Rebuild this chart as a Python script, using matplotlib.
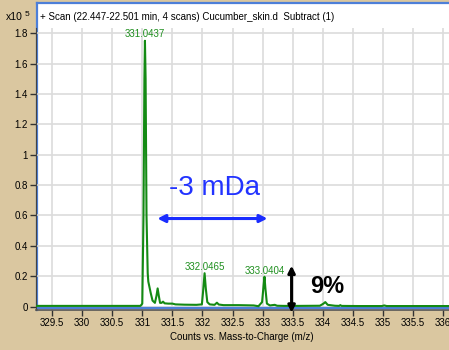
import numpy as np
import matplotlib
matplotlib.use("Agg")
import matplotlib.pyplot as plt
from matplotlib import font_manager
from matplotlib.patches import Rectangle
from matplotlib.lines import Line2D

# profile of the spectrum (m/z, counts x1e5)
mz = [329.22, 330.97, 331.00, 331.02, 331.035, 331.044, 331.055, 331.07, 331.09,
      331.10, 331.14, 331.17, 331.21, 331.235, 331.255, 331.275, 331.295, 331.32,
      331.345, 331.37, 331.43, 331.5, 331.55, 331.7, 331.9, 331.99, 332.01,
      332.035, 332.055, 332.08, 332.12, 332.2, 332.24, 332.27, 332.35, 332.6,
      332.85, 332.93, 332.99, 333.015, 333.03, 333.045, 333.07, 333.12, 333.2,
      333.24, 333.35, 333.6, 333.95, 334.01, 334.04, 334.08, 334.2, 334.27,
      334.29, 334.31, 334.6, 334.98, 335.02, 335.06, 335.5, 336.2]
counts = [0.005, 0.005, 0.02, 0.6, 1.5, 1.75, 1.5, 0.6, 0.22,
          0.165, 0.09, 0.04, 0.025, 0.07, 0.12, 0.07, 0.025, 0.025,
          0.033, 0.022, 0.02, 0.02, 0.015, 0.013, 0.012, 0.015, 0.1,
          0.22, 0.12, 0.03, 0.015, 0.012, 0.026, 0.014, 0.01, 0.01,
          0.008, 0.003, 0.03, 0.14, 0.197, 0.12, 0.02, 0.008, 0.012,
          0.006, 0.005, 0.005, 0.006, 0.02, 0.03, 0.012, 0.006, 0.005,
          0.01, 0.005, 0.004, 0.004, 0.008, 0.004, 0.004, 0.004]

peak_mz = [331.0437, 332.0465, 333.0404]
peak_label_y = [1.796, 0.263, 0.237]

x_ticks = [329.5, 330, 330.5, 331, 331.5, 332, 332.5, 333, 333.5, 334, 334.5, 335, 335.5, 336]
y_ticks = [0, 0.2, 0.4, 0.6, 0.8, 1.0, 1.2, 1.4, 1.6, 1.8]
y_ticklabels = ["0", "0.2", "0.4", "0.6", "0.8", "1", "1.2", "1.4", "1.6", "1.8"]

title = "+ Scan (22.447-22.501 min, 4 scans) Cucumber_skin.d  Subtract (1)"
xlabel = "Counts vs. Mass-to-Charge (m/z)"

names = {f.name for f in font_manager.fontManager.ttflist}
narrow = "Liberation Sans Narrow" in names
small = 8 if narrow else 7
plt.rcParams["font.family"] = ["Liberation Sans Narrow" if narrow else "Liberation Sans", "DejaVu Sans"]

W, H = 449, 350
fig = plt.figure(figsize=(W / 100, H / 100), dpi=100)
fig.patch.set_facecolor("#dac7a0")

def fx(px): return px / W
def fy(py): return 1 - py / H

# white panel with blue frame
fig.patches.append(Rectangle((fx(37), fy(310)), 1 - fx(37), fy(3) - fy(310),
                             transform=fig.transFigure, facecolor="white", edgecolor="none", zorder=-5))
fig.lines.append(Line2D([fx(37), fx(37)], [fy(310), fy(3)], transform=fig.transFigure,
                        color="#4d7fd8", lw=1.6, zorder=-4))
fig.lines.append(Line2D([fx(37), 1], [fy(3), fy(3)], transform=fig.transFigure,
                        color="#4d7fd8", lw=1.6, zorder=-4))

ax = fig.add_axes([fx(35.5), fy(310), 1 - fx(35.5), fy(28) - fy(310)])
ax.set_zorder(2)
ax.set_facecolor("none")
ax.set_xlim(329.226, 336.095)
ax.set_ylim(-0.022, 1.834)

ax.set_xticks(x_ticks)
ax.set_xticklabels([f"{t:g}" for t in x_ticks])
ax.set_yticks(y_ticks)
ax.set_yticklabels(y_ticklabels)
ax.tick_params(axis="both", labelsize=small, length=4, width=1, color="#333333", pad=1.5)
ax.grid(True, color="#dcdcdc", lw=1.2)
ax.set_axisbelow(True)
for s in ("top", "right"):
    ax.spines[s].set_visible(False)
ax.spines["left"].set_color("#444444")
ax.spines["bottom"].set_color("#555555")
ax.spines["bottom"].set_linewidth(1.2)

ax.axhline(-0.012, color="#4d7fd8", lw=1.6, zorder=2)
ax.plot(mz, counts, color="#138a13", lw=1.5, zorder=3)

for m, yl in zip(peak_mz, peak_label_y):
    ax.text(m, yl, f"{m:.4f}", color="#1f8f1f", fontsize=small, ha="center", va="center")

ax.set_xlabel(xlabel, fontsize=small, labelpad=3)

# annotations
ax.annotate("", xy=(331.25, 0.58), xytext=(333.08, 0.58),
            arrowprops=dict(arrowstyle="<|-|>", color="#1a2cff", lw=2.2, mutation_scale=11,
                            shrinkA=0, shrinkB=0))
ax.text(332.2, 0.78, "-3 mDa", color="#2233ff", fontsize=20, ha="center", va="center",
        family=["Liberation Sans", "DejaVu Sans"])
ax.annotate("", xy=(333.48, 0.27), xytext=(333.48, -0.04),
            arrowprops=dict(arrowstyle="<|-|>", color="black", lw=2.2, mutation_scale=10,
                            shrinkA=0, shrinkB=0), annotation_clip=False)
ax.text(334.07, 0.135, "9%", color="black", fontsize=17, fontweight="bold", ha="center", va="center",
        family=["Liberation Sans", "DejaVu Sans"])

fig.text(fx(40), fy(16.5), title, fontsize=small, ha="left", va="center")
fig.text(fx(23), fy(17), "x10", fontsize=small + 0.5, ha="right", va="center")
fig.text(fx(25), fy(14.5), "5", fontsize=small - 1, ha="left", va="center")

fig.savefig("out.png", dpi=100, facecolor=fig.get_facecolor())
